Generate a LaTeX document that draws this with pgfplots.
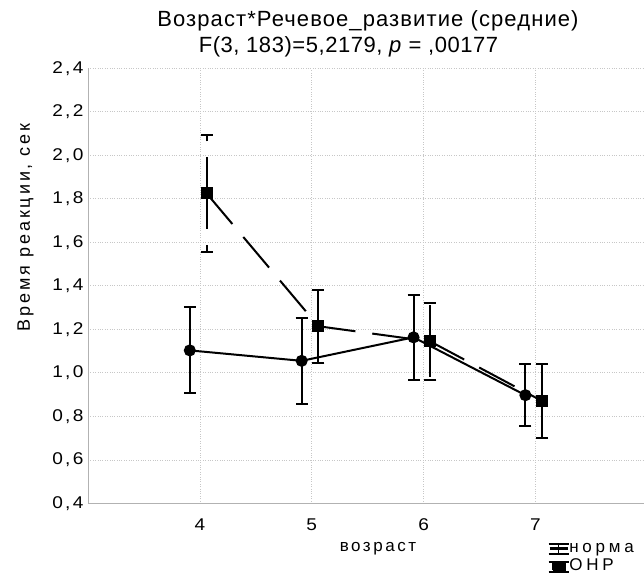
\documentclass[border=0pt]{standalone}
\usepackage{pgfplots}
\pgfplotsset{compat=1.18}
\usepackage{fontspec}
\setmainfont{Liberation Sans}
\newfontfamily\tickfont{Liberation Sans}[FakeStretch=1.12, LetterSpace=14]
\newfontfamily\titleAfont{Liberation Sans}[LetterSpace=5]
\newfontfamily\titleBfont{Liberation Sans}[LetterSpace=2.5]
\newfontfamily\xlabfont{Liberation Sans}[LetterSpace=15]
\newfontfamily\ylabfont{Liberation Sans}[LetterSpace=16]
\newfontfamily\legfont{Liberation Sans}[LetterSpace=22]
\begin{document}
\begin{tikzpicture}
\useasboundingbox (-88bp,-81.7bp) rectangle (556bp,503.3bp);
\begin{axis}[
  at={(0,0)}, anchor=south west,
  scale only axis, width=556bp, height=435bp,
  xmin=3, xmax=7.97, ymin=0.4, ymax=2.4,
  xtick={4,5,6,7}, xticklabels={4,5,6,7},
  ytick={0.4,0.6,...,2.41},
  yticklabel style={/pgf/number format/use comma, /pgf/number format/fixed, /pgf/number format/fixed zerofill, /pgf/number format/precision=1, xshift=-1bp},
  /pgf/number format/assume math mode=true,
  ticklabel style={font=\tickfont\fontsize{17bp}{20bp}\selectfont},
  xticklabel style={anchor=base, yshift=-26.7bp},
  major tick length=0pt,
  axis x line*=bottom, axis y line*=left,
  axis line style={draw=black!30, line width=0.8bp},
  grid=major,
  major grid style={black!22, dotted, line width=0.6bp},
  legend style={at={(axis description cs:0.827,-0.086)}, anchor=north west, draw=none, fill=none,
    font=\legfont\fontsize{17bp}{20bp}\selectfont, inner sep=0pt, row sep=4bp,
    nodes={inner sep=0pt, text height=12bp, text depth=2bp},
    /tikz/every even column/.append style={column sep=3bp}},
  legend cell align=left,
]
\addplot+[black, solid, line width=2bp, mark=*, mark size=5bp, mark options={solid, fill=black},
  legend image code/.code={
    \draw[black, line width=1.3bp, solid] (0bp,4bp)--(20bp,4bp);
    \draw[black, line width=1.3bp, solid] (0bp,-6bp)--(20bp,-6bp);
    \draw[black, line width=1.3bp, solid] (10bp,-6bp)--(10bp,4bp);
    \draw[black, line width=3bp, solid] (1bp,-1bp)--(19bp,-1bp);
  },
  error bars/.cd, y dir=both, y explicit,
  error mark options={rotate=90, black, mark size=6bp, line width=2bp, solid},
  error bar style={line width=2bp, solid}]
  coordinates {
  (3.91,1.103) +- (0,0.198)
  (4.91,1.055) +- (0,0.199)
  (5.91,1.163) +- (0,0.195)
  (6.91,0.897) +- (0,0.142)
};
\addplot+[black, dash pattern=on 40bp off 17bp, line width=2bp, mark=square*, mark size=5bp, mark options={solid, fill=black},
  legend image code/.code={
    \draw[black, line width=1.3bp, solid] (0bp,4bp)--(20bp,4bp);
    \draw[black, line width=1.3bp, solid] (0bp,-6bp)--(20bp,-6bp);
    \draw[black, line width=1.3bp, solid] (10bp,-6bp)--(10bp,4bp);
    \fill[black] (4bp,-4.5bp) rectangle (16bp,2.5bp);
  },
  error bars/.cd, y dir=both, y explicit,
  error mark options={rotate=90, black, mark size=6bp, line width=2bp, solid},
  error bar style={line width=2bp, dash pattern=on 36bp off 16bp}]
  coordinates {
  (4.06,1.825) +- (0,0.268)
  (5.06,1.214) +- (0,0.167)
  (6.06,1.144) +- (0,0.176)
  (7.06,0.870) +- (0,0.170)
};
\legend{норма,ОНР}
\end{axis}
\node[anchor=base, font=\titleAfont\fontsize{22bp}{26bp}\selectfont] at (280bp,476.3bp) {Возраст*Речевое\_развитие (средние)};
\node[anchor=base, font=\titleBfont\fontsize{22bp}{26bp}\selectfont] at (348.5bp-88bp,450.3bp) {F(3, 183)=5,2179, \textit{p} = ,00177};
\node[anchor=base, font=\xlabfont\fontsize{17bp}{20bp}\selectfont] at (290bp,-48.4bp) {возраст};
\node[rotate=90, anchor=base, font=\ylabfont\fontsize{18bp}{22bp}\selectfont] at (-58bp,276bp) {Время реакции, сек};
\end{tikzpicture}
\end{document}
